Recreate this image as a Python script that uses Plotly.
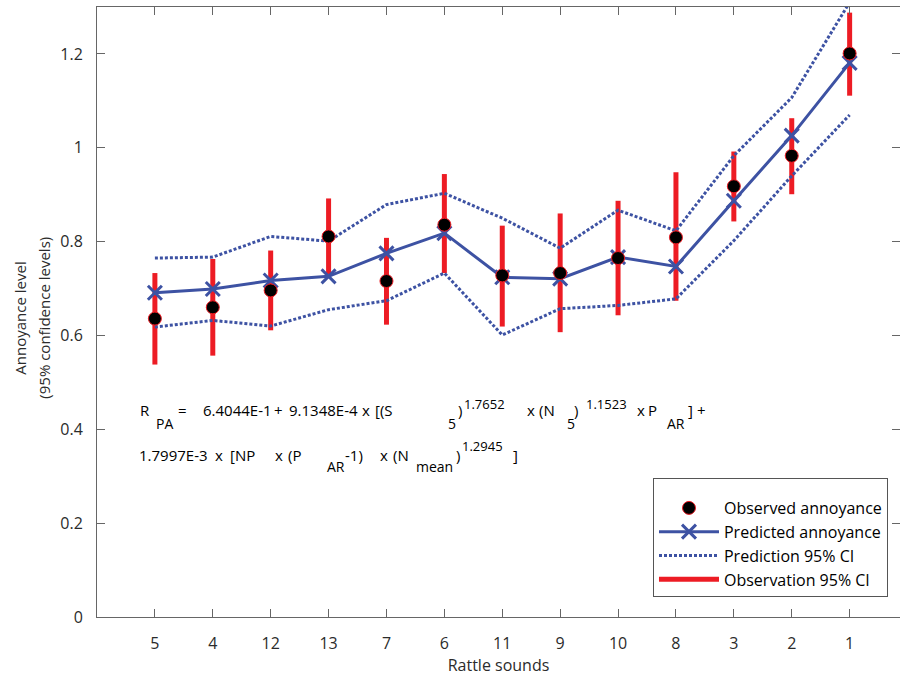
import plotly.graph_objects as go

sounds = ["5", "4", "12", "13", "7", "6", "11", "9", "10", "8", "3", "2", "1"]
observed = [0.636, 0.660, 0.696, 0.811, 0.716, 0.836, 0.728, 0.733, 0.765, 0.809, 0.918, 0.983, 1.201]
predicted = [0.691, 0.699, 0.717, 0.726, 0.775, 0.818, 0.724, 0.721, 0.767, 0.747, 0.887, 1.026, 1.181]
obs_lo = [0.538, 0.557, 0.611, 0.731, 0.623, 0.733, 0.619, 0.607, 0.643, 0.674, 0.843, 0.901, 1.111]
obs_hi = [0.733, 0.763, 0.781, 0.892, 0.808, 0.944, 0.834, 0.860, 0.887, 0.948, 0.992, 1.063, 1.288]
pred_lo = [0.618, 0.632, 0.620, 0.655, 0.674, 0.733, 0.601, 0.657, 0.664, 0.678, 0.802, 0.940, 1.070]
pred_hi = [0.765, 0.767, 0.811, 0.801, 0.879, 0.903, 0.850, 0.786, 0.867, 0.823, 0.983, 1.107, 1.310]
y_ticks = [0, 0.2, 0.4, 0.6, 0.8, 1, 1.2]
y_ticktext = ["0", "0.2", "0.4", "0.6", "0.8", "1", "1.2"]

RED = "#ED1C24"
BLUE = "#3D52A3"
FONT = "Open Sans"
TXT = "#2b2b2b"

# vertical segments for observation CI
bx, by = [], []
for s, lo, hi in zip(sounds, obs_lo, obs_hi):
    bx += [s, s, None]
    by += [lo, hi, None]

fig = go.Figure()
fig.add_trace(go.Scatter(x=bx, y=by, mode="lines", name="Observation 95% CI",
                         line=dict(color=RED, width=5), legendrank=4, legendgroup="d"))
fig.add_trace(go.Scatter(x=sounds, y=pred_hi, mode="lines", name="Prediction 95% CI",
                         line=dict(color=BLUE, width=3, dash="3px,2px"), legendrank=3, legendgroup="c"))
fig.add_trace(go.Scatter(x=sounds, y=pred_lo, mode="lines", name="Prediction 95% CI",
                         line=dict(color=BLUE, width=3, dash="3px,2px"), showlegend=False, legendgroup="c"))
fig.add_trace(go.Scatter(x=sounds, y=predicted, mode="lines+markers", name="Predicted annoyance",
                         line=dict(color=BLUE, width=3),
                         marker=dict(symbol="x-thin", size=14, line=dict(color=BLUE, width=3)),
                         legendrank=2, legendgroup="b"))
fig.add_trace(go.Scatter(x=sounds, y=observed, mode="markers", name="Observed annoyance",
                         marker=dict(symbol="circle", size=13, color="black",
                                     line=dict(color=RED, width=1)),
                         legendrank=1, legendgroup="a"))

# plot area in page pixels
X0, X1, Y0, Y1 = 97.3, 900.0, 7.3, 616.7


def px(x):
    return (x - X0) / (X1 - X0)


def py(y):
    return (Y1 - y) / (Y1 - Y0)


# equation tokens: (text, left x px, center y px, font size)
eq_tokens = [
    ("R", 139, 410, 15), ("PA", 155, 423, 14), ("=", 177, 410, 15),
    ("6.4044E-1", 202, 410, 15), ("+", 273, 410, 15), ("9.1348E-4", 288, 410, 15),
    ("x", 361, 410, 15), ("[(S", 374, 410, 15), ("5", 447, 423, 14), (")", 457, 410, 15),
    ("1.7652", 463, 404, 13), ("x", 526, 410, 15), ("(N", 538, 410, 15),
    ("5", 566, 423, 14), (")", 573, 410, 15), ("1.1523", 585, 404, 13),
    ("x", 636, 410, 15), ("P", 647, 410, 15), ("AR", 666, 423, 14), ("]", 687, 410, 15),
    ("+", 696, 410, 15),
    ("1.7997E-3", 138, 455, 15), ("x", 214, 455, 15), ("[NP", 229, 455, 15),
    ("x", 274, 455, 15), ("(P", 287, 455, 15), ("AR", 326, 466, 14), ("-1)", 344, 455, 15),
    ("x", 379, 455, 15), ("(N", 392, 455, 15), ("mean", 415, 466, 14), (")", 455, 455, 15),
    ("1.2945", 461, 446, 13), ("]", 512, 455, 15),
]
for t, x, y, s in eq_tokens:
    fig.add_annotation(xref="paper", yref="paper", x=px(x), y=py(y), xanchor="left",
                       yanchor="middle", text=t, showarrow=False, borderpad=0,
                       font=dict(family=FONT, size=s, color="black"))

# y-axis title, two lines
for t, x in [("Annoyance level", 20), ("(95% confidence levels)", 44)]:
    fig.add_annotation(xref="paper", yref="paper", x=px(x), y=py(318), xanchor="center",
                       yanchor="middle", text=t, textangle=-90, showarrow=False, borderpad=0,
                       font=dict(family=FONT, size=15, color=TXT))

fig.update_layout(
    width=900, height=677,
    margin=dict(l=97, r=0, t=7, b=60, autoexpand=False),
    paper_bgcolor="white", plot_bgcolor="white",
    font=dict(family=FONT, size=15, color=TXT),
    showlegend=True,
    legend=dict(x=px(888), y=py(597), xanchor="right", yanchor="bottom",
                bordercolor="#555555", borderwidth=1, bgcolor="white",
                font=dict(family=FONT, size=16, color="black"),
                title=dict(text="\u00a0", font=dict(size=9)),
                itemwidth=60, traceorder="grouped", tracegroupgap=0,
                entrywidth=182, entrywidthmode="pixels"),
    xaxis=dict(type="category", categoryorder="array", categoryarray=sounds,
               range=[-1, 12.87], showgrid=False, zeroline=False,
               showline=True, linecolor="#666666", linewidth=1, mirror="ticks",
               ticks="inside", ticklen=8, tickcolor="#666666", ticklabelstandoff=12,
               tickfont=dict(family=FONT, size=16, color=TXT),
               title=dict(text="Rattle sounds", font=dict(family=FONT, size=16, color=TXT), standoff=4)),
    yaxis=dict(range=[0, 1.3], tickvals=y_ticks, ticktext=y_ticktext,
               showgrid=False, zeroline=False,
               showline=True, linecolor="#666666", linewidth=1,
               ticks="inside", ticklen=8, tickcolor="#666666",
               tickfont=dict(family=FONT, size=16, color=TXT), ticklabelstandoff=10),
    yaxis2=dict(overlaying="y", side="right", range=[0, 1.3], tickvals=y_ticks,
                showticklabels=False, showgrid=False, zeroline=False, showline=False,
                ticks="inside", ticklen=8, tickcolor="#666666"),
)
fig.add_trace(go.Scatter(x=[None], y=[None], yaxis="y2", showlegend=False, hoverinfo="skip"))

fig.write_html("out.html", config={"displayModeBar": False},
               post_script="document.body.style.margin='0';")
